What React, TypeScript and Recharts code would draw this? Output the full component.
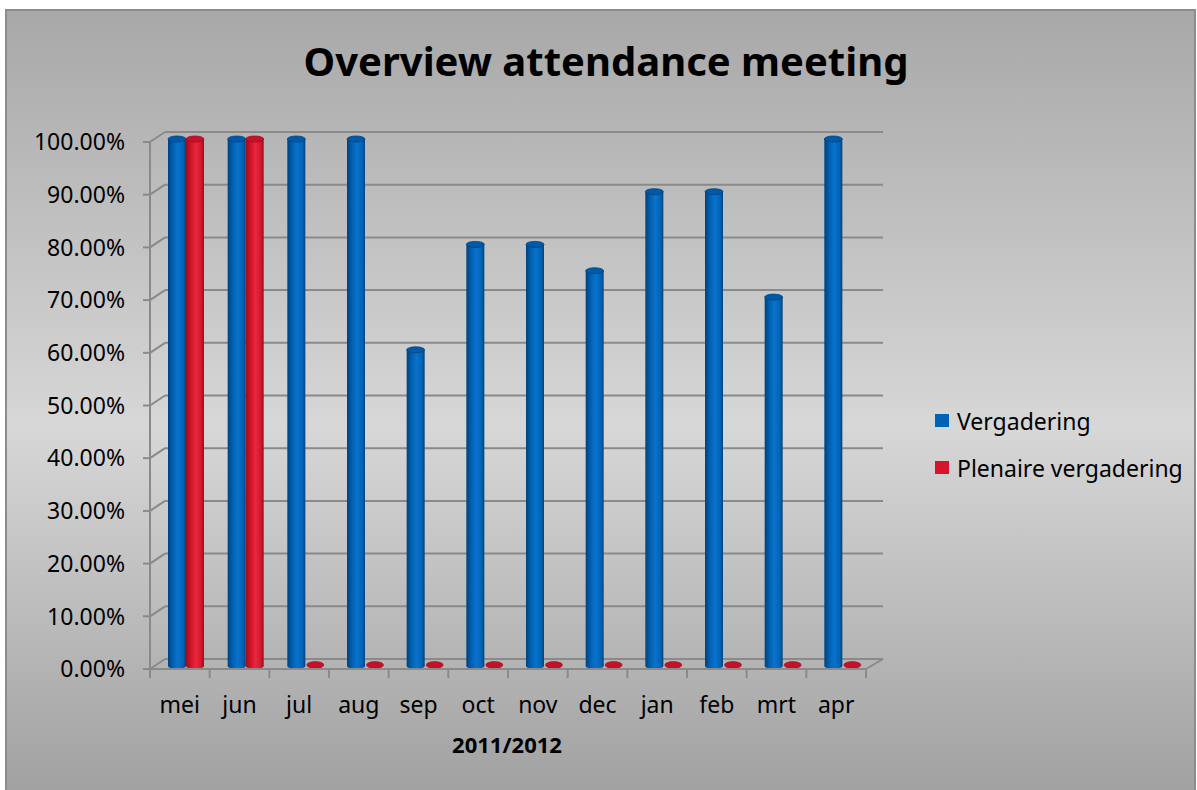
import { Bar, BarChart, CartesianGrid, Legend, XAxis, YAxis } from 'recharts';

const months = ['mei', 'jun', 'jul', 'aug', 'sep', 'oct', 'nov', 'dec', 'jan', 'feb', 'mrt', 'apr'];
const vergadering = [1, 1, 1, 1, 0.6, 0.8, 0.8, 0.75, 0.9, 0.9, 0.7, 1];
const plenaire = [1, 1, 0, 0, 0, 0, 0, 0, 0, 0, 0, 0];
const yTicks = [0, 0.1, 0.2, 0.3, 0.4, 0.5, 0.6, 0.7, 0.8, 0.9, 1];
const seriesNames = ['Vergadering', 'Plenaire vergadering'];

const data = months.map((m, i) => ({ month: m, verg: vergadering[i], plen: plenaire[i] }));

const W = 1187;
const H = 779;
const PLOT_LEFT = 143;
const PLOT_RIGHT = 859;
const PLOT_TOP = 131;
const PLOT_BOTTOM = 658;
const BAND = (PLOT_RIGHT - PLOT_LEFT) / months.length;
// 3D depth offsets (back wall vs front axis, bars sit in between)
const WALL_DX = 15;
const WALL_DY = -10;
const BAR_DX = 6;
const BAR_DY = -3;

const FONT = '"Noto Sans", "Open Sans", sans-serif';
const GRID = '#8a8a8a';

const BLUE = { light: '#0a72cc', mid: '#0063b4', dark: '#00427e', top: '#0059a6' };
const RED = { light: '#e8283c', mid: '#d4152b', dark: '#9a0c1b', top: '#c5122a' };

function cylinder(colors: typeof BLUE, id: string) {
  return (props: any) => {
    const x = props.x + BAR_DX;
    const w = props.width;
    const h = Math.max(0, props.height);
    const y = props.y + BAR_DY;
    const cx = x + w / 2;
    const rx = w / 2;
    const ry = 3;
    if (h < 1) {
      return (
        <g>
          <ellipse cx={cx + 1} cy={y + h - 1} rx={rx - 0.5} ry={3.4} fill={colors.top} stroke={colors.dark} strokeWidth={0.6} />
        </g>
      );
    }
    return (
      <g>
        <defs>
          <linearGradient id={id} x1="0" y1="0" x2="1" y2="0">
            <stop offset="0%" stopColor={colors.dark} />
            <stop offset="30%" stopColor={colors.mid} />
            <stop offset="55%" stopColor={colors.light} />
            <stop offset="85%" stopColor={colors.mid} />
            <stop offset="100%" stopColor={colors.dark} />
          </linearGradient>
        </defs>
        <ellipse cx={cx} cy={y + h} rx={rx} ry={ry} fill={`url(#${id})`} />
        <rect x={x} y={y} width={w} height={h} fill={`url(#${id})`} />
        <ellipse cx={cx} cy={y} rx={rx} ry={ry} fill={colors.top} stroke={colors.dark} strokeWidth={0.8} />
      </g>
    );
  };
}

const BlueCyl = cylinder(BLUE, 'gradBlue');
const RedCyl = cylinder(RED, 'gradRed');

function gridLine(p: any) {
  const { x1, y1, x2, y2 } = p;
  const bottom = Math.abs(y1 - PLOT_BOTTOM) < 1;
  return (
    <g key={`grid-${y1}`}>
      <line x1={x1} y1={y1} x2={x1 + WALL_DX} y2={y1 + WALL_DY} stroke={GRID} strokeWidth={2} />
      <line x1={x1 + WALL_DX} y1={y1 + WALL_DY} x2={x2 + WALL_DX + 2} y2={y2 + WALL_DY} stroke={GRID} strokeWidth={2} />
      {bottom && <line x1={x2} y1={y2} x2={x2 + WALL_DX + 2} y2={y2 + WALL_DY} stroke={GRID} strokeWidth={2} />}
    </g>
  );
}

function YTick(props: any) {
  const { x, y, payload } = props;
  return (
    <text x={x} y={y} dy="0.36em" textAnchor="end" fontSize={23} fontFamily={FONT} fill="#000">
      {(payload.value * 100).toFixed(2)}%
    </text>
  );
}

function XTick(props: any) {
  const { x, payload, index } = props;
  const last = index === months.length - 1;
  return (
    <g>
      <line x1={x - BAND / 2} y1={PLOT_BOTTOM} x2={x - BAND / 2} y2={PLOT_BOTTOM + 9} stroke={GRID} strokeWidth={2} />
      {last && <line x1={x + BAND / 2} y1={PLOT_BOTTOM} x2={x + BAND / 2} y2={PLOT_BOTTOM + 9} stroke={GRID} strokeWidth={2} />}
      <text x={x} y={PLOT_BOTTOM + 36} dy="0.36em" textAnchor="middle" fontSize={23} fontFamily={FONT} fill="#000">
        {payload.value}
      </text>
    </g>
  );
}

function LegendBox(props: any) {
  const items = [...(props.payload || [])].sort(
    (a: any, b: any) => seriesNames.indexOf(a.value) - seriesNames.indexOf(b.value),
  );
  return (
    <div style={{ fontFamily: FONT, fontSize: 23, color: '#000' }}>
      {items.map((it: any) => (
        <div key={it.value} style={{ display: 'flex', alignItems: 'center', height: 47 }}>
          <span style={{ width: 14, height: 13, background: it.color, display: 'inline-block', marginRight: 8 }} />
          <span>{it.value}</span>
        </div>
      ))}
    </div>
  );
}

export default function App() {
  return (
    <div
      style={{
        position: 'fixed',
        left: 5,
        top: 9,
        width: 1191,
        height: 790,
        boxSizing: 'border-box',
        border: '2px solid #8c8c8c',
        background: 'linear-gradient(to bottom, #a8a8a8 0%, #d7d7d7 53%, #a0a0a0 100%)',
        overflow: 'hidden',
      }}
    >
      <div
        style={{
          position: 'absolute',
          left: 0,
          width: 1198,
          top: 22,
          textAlign: 'center',
          fontFamily: FONT,
          fontWeight: 700,
          fontSize: 40,
          color: '#000',
        }}
      >
        Overview attendance meeting
      </div>
      <div
        style={{
          position: 'absolute',
          left: 400,
          width: 200,
          top: 718,
          textAlign: 'center',
          fontFamily: FONT,
          fontWeight: 700,
          fontSize: 22,
          color: '#000',
        }}
      >
        2011/2012
      </div>
      <BarChart
        width={W}
        height={H}
        data={data}
        margin={{ top: PLOT_TOP, left: PLOT_LEFT - 120, right: W - PLOT_RIGHT, bottom: H - PLOT_BOTTOM - 40 }}
        barGap={0}
        barSize={18}
        style={{ position: 'absolute', left: 0, top: 0 }}
      >
        <CartesianGrid vertical={false} horizontal={gridLine} />
        <XAxis
          dataKey="month"
          height={40}
          tickLine={false}
          axisLine={{ stroke: GRID, strokeWidth: 2 }}
          tick={<XTick />}
          interval={0}
        />
        <YAxis
          width={120}
          domain={[0, 1]}
          ticks={yTicks}
          tickSize={7}
          tickLine={{ stroke: GRID, strokeWidth: 2 }}
          axisLine={{ stroke: GRID, strokeWidth: 2 }}
          tick={(p: any) => <YTick {...p} x={PLOT_LEFT - 25} />}
          interval={0}
        />
        <Legend
          layout="vertical"
          align="center"
          verticalAlign="middle"
          content={<LegendBox />}
          wrapperStyle={{ position: 'absolute', left: 928, top: 386, width: 260 }}
        />
        <Bar dataKey="verg" name="Vergadering" fill="#0063b4" shape={BlueCyl} isAnimationActive={false} />
        <Bar dataKey="plen" name="Plenaire vergadering" fill="#d4152b" shape={RedCyl} isAnimationActive={false} />
      </BarChart>
    </div>
  );
}
